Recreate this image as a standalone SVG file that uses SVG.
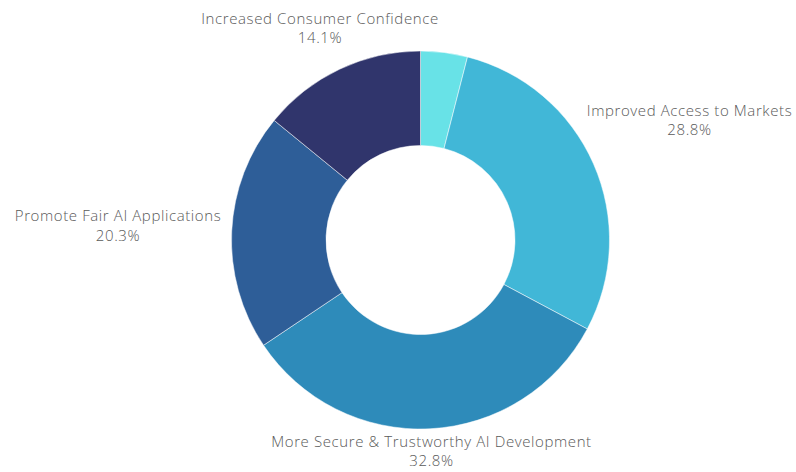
<svg xmlns="http://www.w3.org/2000/svg" width="796" height="472" viewBox="0 0 796 472">
<style>
.lbl{font-family:"Open Sans","Liberation Sans",sans-serif;font-size:15px;fill:#595959;text-anchor:middle;font-weight:300;letter-spacing:0.6px}
.seg{stroke:#ffffff;stroke-width:0.5}
</style>
<rect width="796" height="472" fill="#ffffff"/>
<g id="slice-other">
<path class="seg" fill="#68e2e7" d="M420.5,51 A189,189 0 0 1 467.5,56.94 L444,148.47 A94.5,94.5 0 0 0 420.5,145.5 Z"/>
</g>
<g id="slice-improved-access">
<path class="seg" fill="#41b7d7" d="M467.5,56.94 A189,189 0 0 1 587.27,328.96 L503.88,284.48 A94.5,94.5 0 0 0 444,148.47 Z"/>
<text class="lbl" x="689.5" y="116">Improved Access to Markets</text>
<text class="lbl" x="689.5" y="135">28.8%</text>
</g>
<g id="slice-more-secure">
<path class="seg" fill="#2e8bba" d="M587.27,328.96 A189,189 0 0 1 263.53,345.27 L342.01,292.63 A94.5,94.5 0 0 0 503.88,284.48 Z"/>
<text class="lbl" x="431.5" y="447">More Secure &amp; Trustworthy AI Development</text>
<text class="lbl" x="431.5" y="466">32.8%</text>
</g>
<g id="slice-promote-fair">
<path class="seg" fill="#2e5e98" d="M263.53,345.27 A189,189 0 0 1 274.17,120.38 L347.33,180.19 A94.5,94.5 0 0 0 342.01,292.63 Z"/>
<text class="lbl" x="118" y="221">Promote Fair AI Applications</text>
<text class="lbl" x="118" y="241">20.3%</text>
</g>
<g id="slice-consumer-confidence">
<path class="seg" fill="#30356c" d="M274.17,120.38 A189,189 0 0 1 420.5,51 L420.5,145.5 A94.5,94.5 0 0 0 347.33,180.19 Z"/>
<text class="lbl" x="320" y="24">Increased Consumer Confidence</text>
<text class="lbl" x="320" y="43">14.1%</text>
</g>
</svg>
